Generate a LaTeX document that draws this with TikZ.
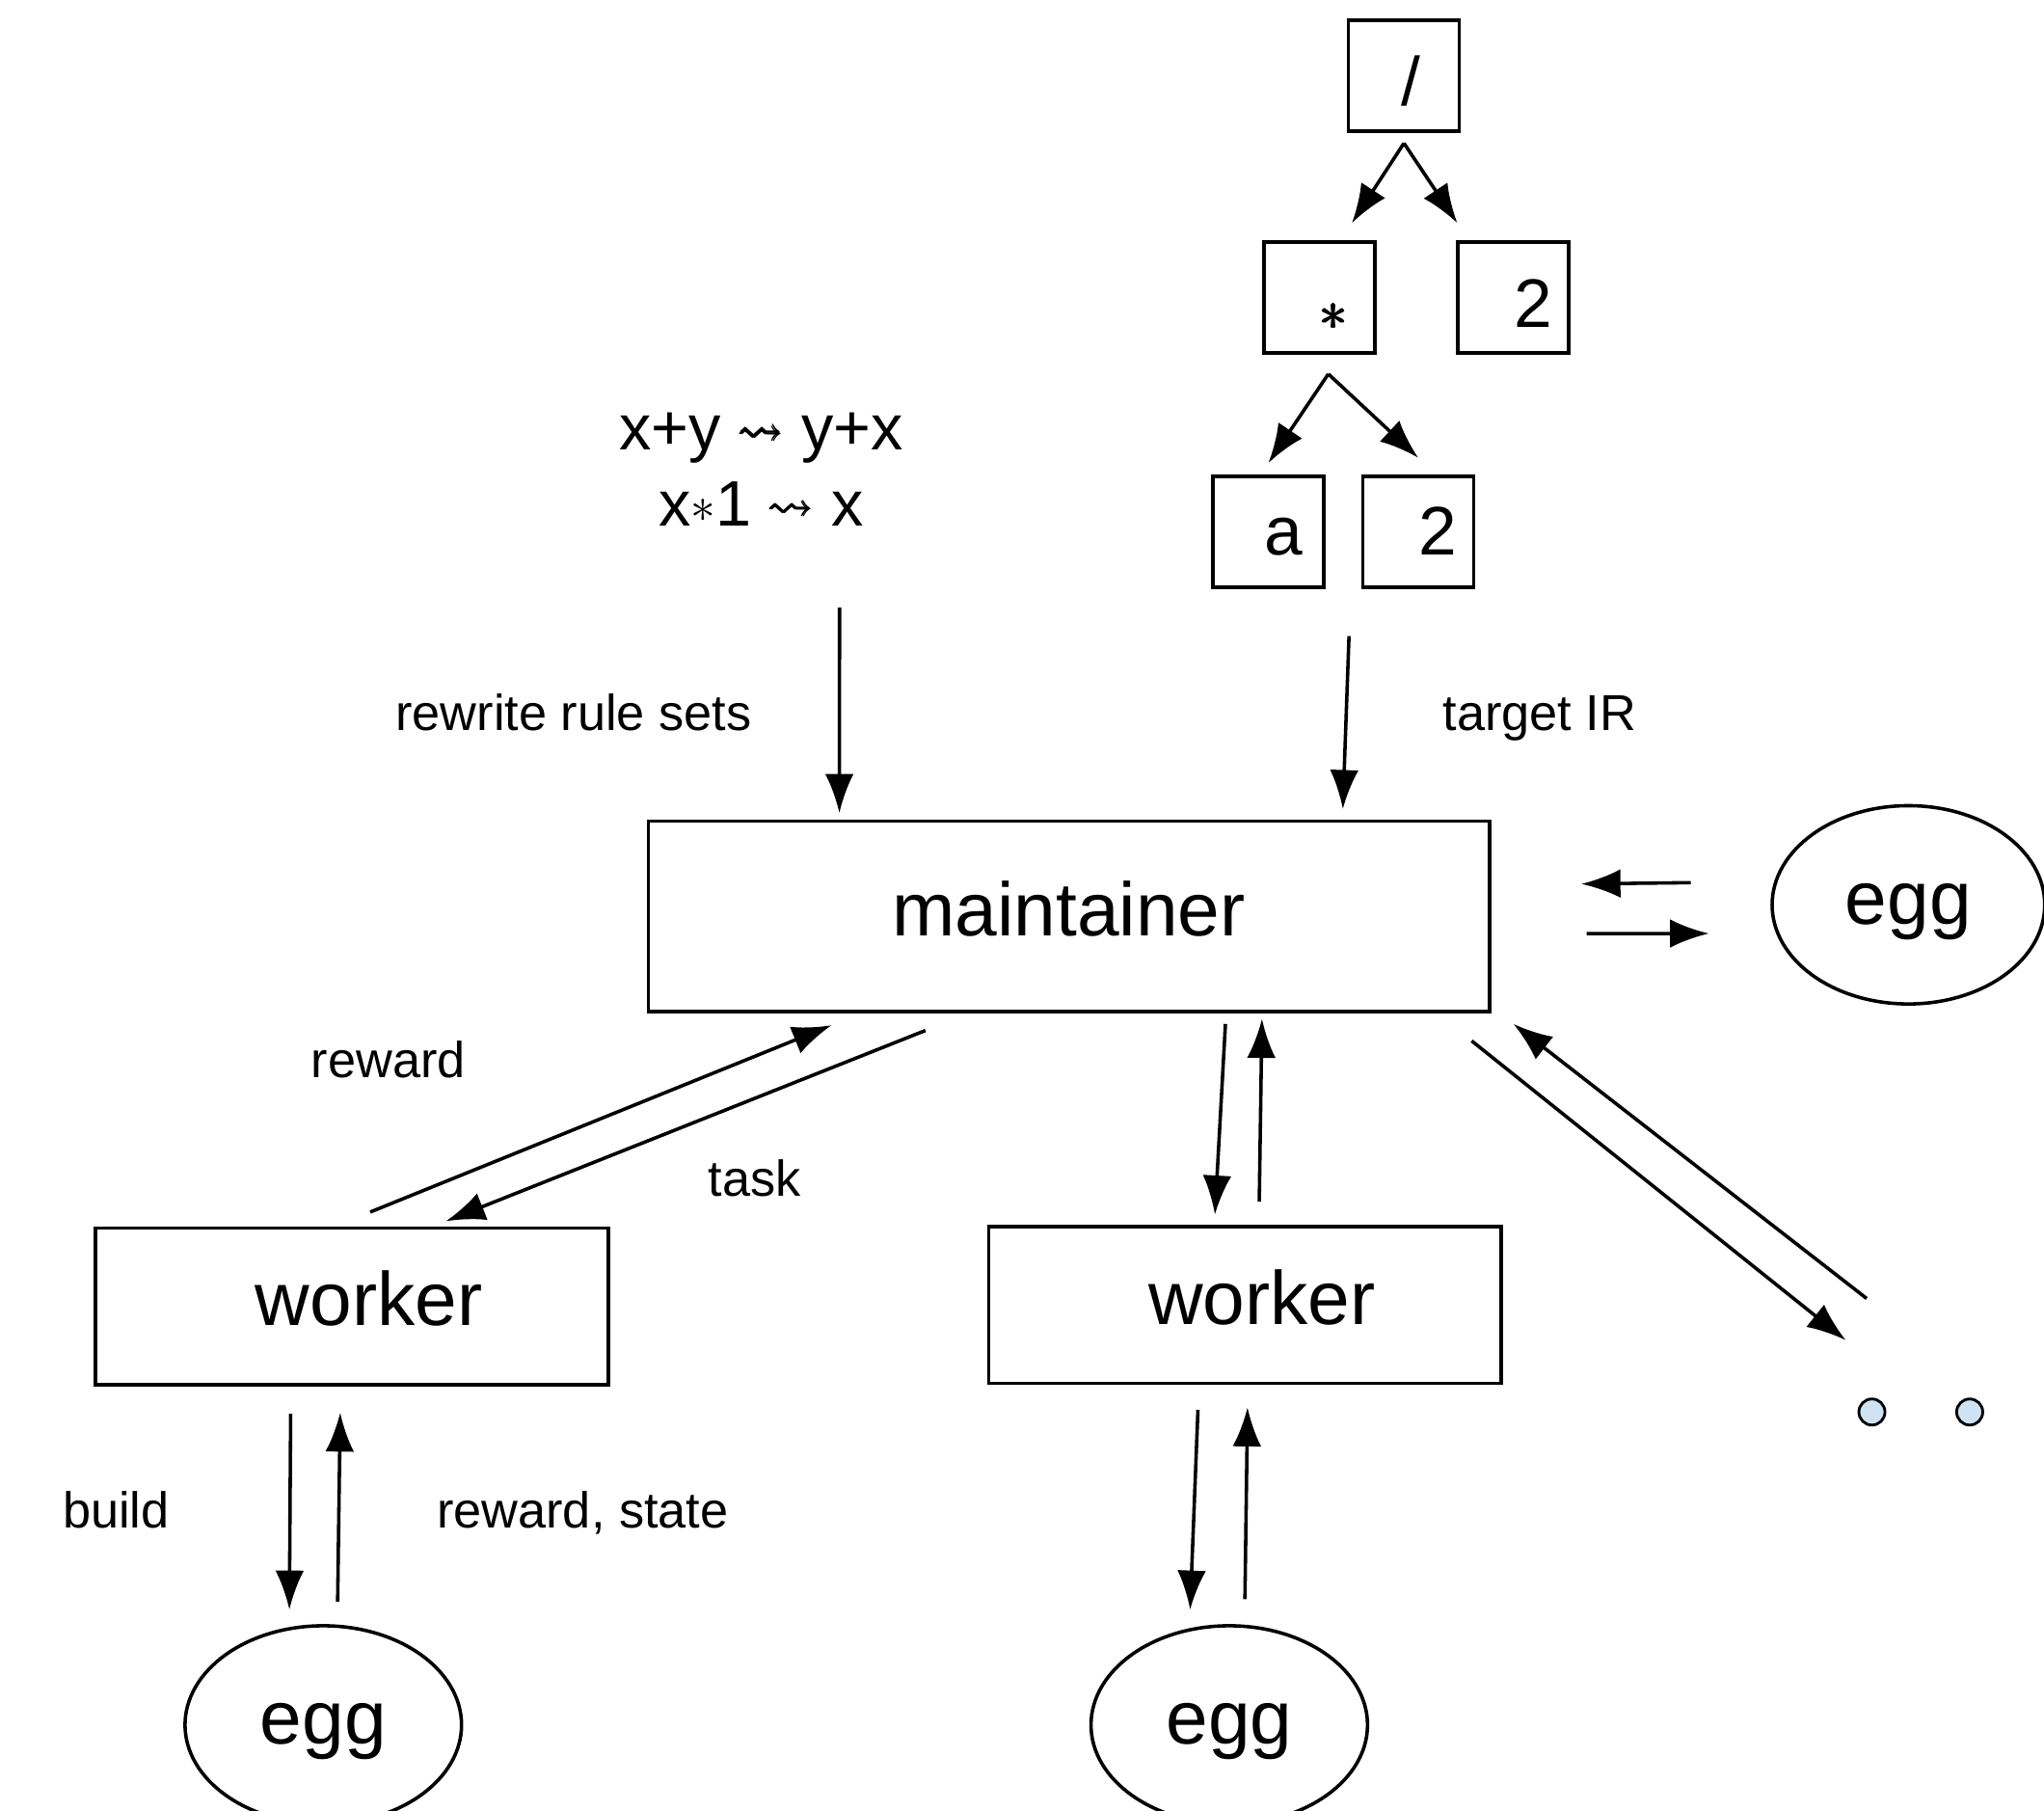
\documentclass[tikz,border=0pt]{standalone}
\usepackage{amsmath}
\usepackage{amssymb}
\usepackage{graphicx}
\usepackage{fontspec}
\setmainfont{Liberation Sans}
\usepackage{tikz}
\usetikzlibrary{positioning}
\usetikzlibrary{arrows.meta}
\usetikzlibrary{shapes.geometric}
\usepackage{xcolor}

\definecolor{dotblue}{HTML}{CFE2F3}

\begin{document}
\begin{tikzpicture}[x=0.01cm, y=-0.01cm,
  flow/.style={line width=0.75pt, -{Latex[length=0.3cm,width=0.22cm]}},
  bigbox/.style={draw, line width=0.75pt, inner sep=0pt, font=\fontsize{16.5}{18}\selectfont, text height=0.95em, text depth=0.1em},
  eggnode/.style={draw, ellipse, line width=0.75pt, inner sep=0pt, minimum width=2.09cm, minimum height=1.52cm, font=\fontsize{16.5}{18}\selectfont, text height=0.95em, text depth=0.1em},
  treebox/.style={draw, line width=0.75pt, inner sep=0pt, minimum width=0.85cm, minimum height=0.85cm, font=\fontsize{15}{18}\selectfont, text height=1.3em, text depth=0pt},
  lbl/.style={inner sep=0pt, font=\fontsize{11}{13}\selectfont, text height=0.85em, text depth=0.1em},
  dot/.style={draw, circle, fill=dotblue, line width=0.6pt, minimum size=0.2cm, inner sep=0pt}]

\useasboundingbox (0,0) rectangle (1568,1389);

% rule sets
\node[align=center, font=\fontsize{14}{16.5}\selectfont] (rules) at (584,360)
{x+y \raisebox{0.085em}{\scalebox{0.7}{$\pmb{\leadsto}$}} y+x\\
x\raisebox{0.06em}{\scalebox{0.75}{$\ast$}}1 \raisebox{0.085em}{\scalebox{0.7}{$\pmb{\leadsto}$}} x};

% expression tree
\node[treebox] (div) at (1077,58) {\hspace*{0.1cm}/};
\node[treebox] (mul) at (1012,228) {\hspace*{0.24cm}\raisebox{-0.05em}{\scalebox{0.85}{$\pmb{\ast}$}}};
\node[treebox] (twoA) at (1161,228) {\hspace*{0.3cm}2};
\node[treebox, text height=1em] (varA) at (973,408) {\hspace*{0.24cm}a};
\node[treebox, text height=1em] (twoB) at (1088,408) {\hspace*{0.3cm}2};

\coordinate (divfork) at ([yshift=-0.08cm]div.south);
\coordinate (mulfork) at ([xshift=0.07cm,yshift=-0.15cm]mul.south);
\draw[flow] (divfork) -- ([xshift=0.25cm,yshift=0.13cm]mul.north);
\draw[flow] (divfork) -- ([xshift=-0.43cm,yshift=0.13cm]twoA.north);
\draw[flow] (mulfork) -- ([yshift=0.09cm]varA.north);
\draw[flow] (mulfork) -- ([yshift=0.13cm]twoB.north);

% boxes
\node[bigbox, minimum width=6.45cm, minimum height=1.46cm] (maint) at (820,703) {maintainer};
\node[bigbox, minimum width=3.93cm, minimum height=1.2cm] (workA) at (270,1002) {\hspace*{0.26cm}worker};
\node[bigbox, minimum width=3.93cm, minimum height=1.2cm] (workB) at (955,1001) {\hspace*{0.26cm}worker};

\node[eggnode] (eggside) at (1464,694) {egg};
\node[eggnode, minimum width=2.12cm] (eggA) at (248,1323) {egg};
\node[eggnode, minimum width=2.12cm] (eggB) at (943,1323) {egg};

\node[dot] (dotA) at (1436,1083) {};
\node[dot] (dotB) at (1511,1083) {};

% labels
\node[lbl] (rulelbl) at (440,547) {rewrite rule sets};
\node[lbl] (irlbl) at (1181,547) {target IR};
\node[lbl] (rewlbl) at (298,813) {reward};
\node[lbl] (tasklbl) at (579,904) {task};
\node[lbl] (buildlbl) at (89,1159) {build};
\node[lbl] (statelbl) at (447,1159) {reward, state};

% inputs
\draw[flow] ([xshift=0.6cm,yshift=-1.06cm]rules.center) -- ([xshift=-1.76cm,yshift=0.05cm]maint.north);
\draw[flow] ([xshift=0.18cm,yshift=-0.36cm]varA.south east) -- ([xshift=2.1cm,yshift=0.08cm]maint.north);

% maintainer and egg
\draw[flow] ([xshift=-0.61cm,yshift=0.17cm]eggside.west) -- ([xshift=0.69cm,yshift=0.25cm]maint.east);
\draw[flow] ([xshift=0.73cm,yshift=-0.13cm]maint.east) -- ([xshift=-0.47cm,yshift=-0.22cm]eggside.west);

% maintainer and workers
\draw[flow] ([xshift=0.14cm,yshift=0.11cm]workA.north) -- ([xshift=-1.82cm,yshift=-0.09cm]maint.south);
\draw[flow] ([xshift=-1.1cm,yshift=-0.13cm]maint.south) -- ([xshift=0.72cm,yshift=0.04cm]workA.north);
\draw[flow] ([xshift=1.2cm,yshift=-0.08cm]maint.south) -- ([xshift=-0.23cm,yshift=0.08cm]workB.north);
\draw[flow] ([xshift=0.11cm,yshift=0.18cm]workB.north) -- ([xshift=1.48cm,yshift=-0.04cm]maint.south);
\draw[flow] ([xshift=-0.15cm,yshift=-0.21cm]maint.south east) -- ([xshift=-0.2cm,yshift=0.55cm]dotA.center);
\draw[flow] ([xshift=-0.04cm,yshift=0.87cm]dotA.center) -- ([xshift=0.17cm,yshift=-0.08cm]maint.south east);

% workers and eggs
\draw[flow] ([xshift=-0.47cm,yshift=-0.21cm]workA.south) -- ([xshift=-0.26cm,yshift=0.11cm]eggA.north);
\draw[flow] ([xshift=0.11cm,yshift=0.17cm]eggA.north) -- ([xshift=-0.09cm,yshift=-0.2cm]workA.south);
\draw[flow] ([xshift=-0.36cm,yshift=-0.19cm]workB.south) -- ([xshift=-0.3cm,yshift=0.11cm]eggB.north);
\draw[flow] ([xshift=0.12cm,yshift=0.19cm]eggB.north) -- ([xshift=0.02cm,yshift=-0.17cm]workB.south);

\end{tikzpicture}
\end{document}
